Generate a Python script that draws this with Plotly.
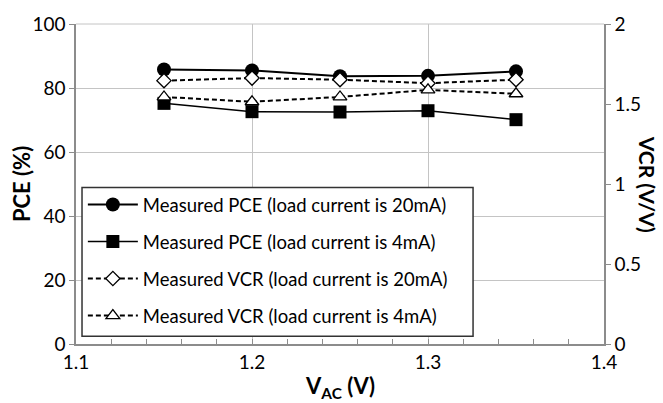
import plotly.graph_objects as go

v_ac = [1.15, 1.2, 1.25, 1.3, 1.35]
pce_20ma = [85.8, 85.5, 83.7, 83.8, 85.2]
pce_4ma = [75.2, 72.6, 72.5, 72.9, 70.1]
vcr_20ma = [1.646, 1.662, 1.652, 1.630, 1.652]
vcr_4ma = [1.544, 1.514, 1.544, 1.588, 1.564]

names = [
    "Measured PCE (load current is 20mA)",
    "Measured PCE (load current is 4mA)",
    "Measured VCR (load current is 20mA)",
    "Measured VCR (load current is 4mA)",
]

FONT = "Lato"
fig = go.Figure()

fig.add_trace(go.Scatter(
    x=v_ac, y=pce_20ma, name=names[0], legendgroup="a", mode="lines+markers",
    line=dict(color="black", width=2),
    marker=dict(symbol="circle", size=14, color="black")))
fig.add_trace(go.Scatter(
    x=v_ac, y=pce_4ma, name=names[1], legendgroup="b", mode="lines+markers",
    line=dict(color="black", width=1.5),
    marker=dict(symbol="square", size=13, color="black")))
fig.add_trace(go.Scatter(
    x=v_ac, y=vcr_20ma, name=names[2], legendgroup="c", mode="lines+markers", yaxis="y2",
    line=dict(color="black", width=2, dash="5px,3px"),
    marker=dict(symbol="diamond", size=11, color="white", line=dict(color="black", width=1.3))))
fig.add_trace(go.Scatter(
    x=v_ac, y=vcr_4ma, name=names[3], legendgroup="d", mode="lines+markers", yaxis="y2",
    line=dict(color="black", width=2, dash="5px,3px"),
    marker=dict(symbol="triangle-up", size=12, color="white", line=dict(color="black", width=1.3))))

grid = "#c4c4c4"
axcol = "#8c8c8c"

fig.update_layout(
    width=663, height=403,
    margin=dict(l=76, r=59, t=16, b=59),
    paper_bgcolor="white", plot_bgcolor="white",
    font=dict(family=FONT, size=19, color="black"),
    showlegend=True,
    legend=dict(
        x=0.013, y=0.494, xanchor="left", yanchor="top",
        borderwidth=0, bgcolor="rgba(0,0,0,0)",
        font=dict(family=FONT, size=18.5, color="black"),
        tracegroupgap=10, itemwidth=50,
    ),
    xaxis=dict(
        range=[1.1, 1.4], tickvals=[1.1, 1.2, 1.3, 1.4], ticktext=["1.1", "1.2", "1.3", "1.4"],
        showgrid=True, gridcolor=grid, gridwidth=1,
        showline=True, linecolor=axcol, linewidth=1.5,
        ticks="inside", ticklen=5, tickcolor=axcol,
        minor=dict(dtick=0.02, ticks="inside", ticklen=5, tickcolor=axcol, showgrid=False),
        zeroline=False, tickfont=dict(size=19),
    ),
    yaxis=dict(
        range=[0, 100], tickvals=[0, 20, 40, 60, 80, 100],
        showgrid=True, gridcolor=grid, gridwidth=1,
        showline=True, linecolor=axcol, linewidth=1.5,
        ticks="outside", ticklen=5, tickcolor=axcol,
        zeroline=False, tickfont=dict(size=19),
    ),
    yaxis2=dict(
        range=[0, 2], tickvals=[0, 0.5, 1, 1.5, 2], ticktext=["0", "0.5", "1", "1.5", "2"],
        overlaying="y", side="right", showgrid=False,
        showline=True, linecolor=axcol, linewidth=1.5,
        ticks="outside", ticklen=5, tickcolor=axcol,
        zeroline=False, tickfont=dict(size=19),
    ),
    shapes=[
        dict(type="line", xref="paper", yref="paper", x0=0, x1=1, y0=1, y1=1,
             line=dict(color=grid, width=1)),
        dict(type="rect", xref="paper", yref="paper", x0=0.0114, x1=0.752, y0=0.0243, y1=0.489,
             fillcolor="white", line=dict(color="#333333", width=1.5), layer="above"),
    ],
    annotations=[
        dict(text="<b>PCE (%)</b>", xref="paper", yref="paper", x=-0.104, y=0.5,
             xanchor="center", yanchor="middle",
             textangle=-90, showarrow=False, font=dict(size=22)),
        dict(text="<b>VCR (V/V)</b>", xref="paper", yref="paper", x=1.084, y=0.5,
             xanchor="center", yanchor="middle",
             textangle=90, showarrow=False, font=dict(size=21)),
        dict(text="<b>V<sub>AC</sub> (V)</b>", xref="paper", yref="paper", x=0.5, y=-0.135,
             xanchor="center", yanchor="middle",
             showarrow=False, font=dict(size=22)),
    ],
)

fig.write_html("out.html")
